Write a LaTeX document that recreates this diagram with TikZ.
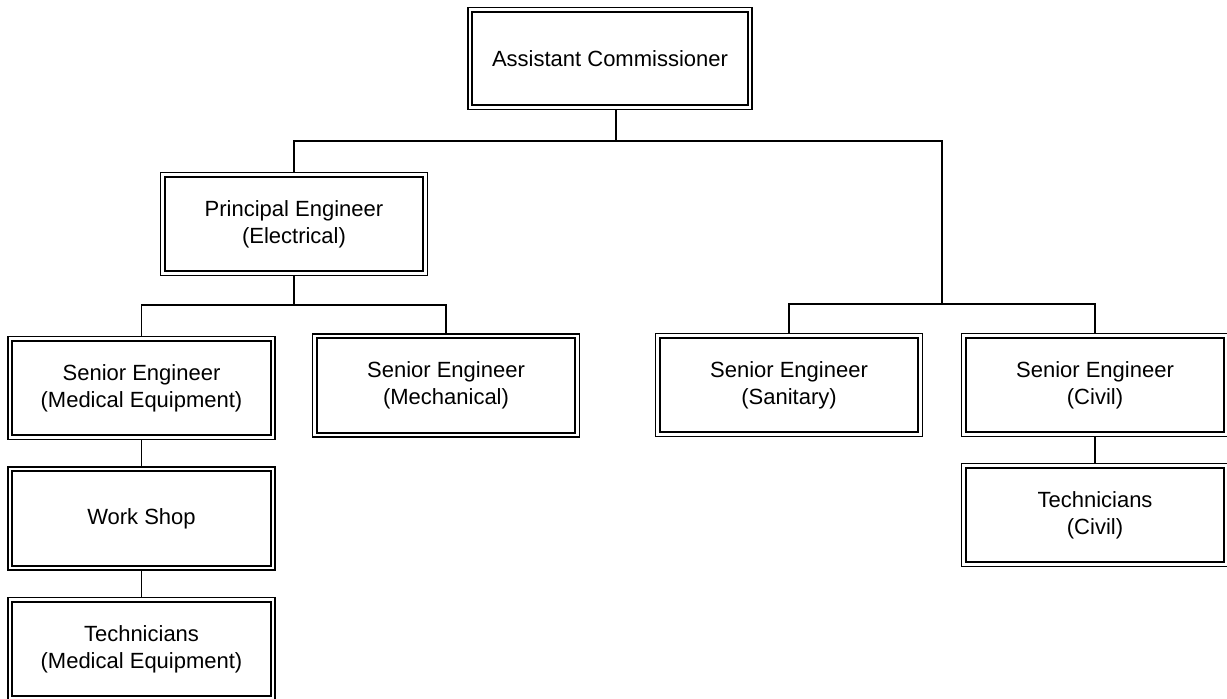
\documentclass[tikz,border=0pt]{standalone}
\usepackage{fontspec}
\setmainfont{Liberation Sans}
\begin{document}
\begin{tikzpicture}[x=1pt,y=-1pt,
  orgbox/.style={draw, line width=1.3pt,
    inner sep=0pt, minimum width=267pt, minimum height=103pt,
    align=center, font=\fontsize{22}{27}\selectfont,
    path picture={\draw[line width=2.2pt]
      ([shift={(4.2pt,-4.2pt)}]path picture bounding box.north west) rectangle
      ([shift={(-4.2pt,4.2pt)}]path picture bounding box.south east);}},
  link/.style={line width=1.8pt}]
\useasboundingbox (0,0) rectangle (1227,699);

% boxes
\node[orgbox, minimum width=284pt, minimum height=102pt] (ac) at (610,58.5) {Assistant Commissioner};
\node[orgbox] (pe)   at (294,224)    {Principal Engineer\\(Electrical)};
\node[orgbox] (smed) at (141.5,388)  {Senior Engineer\\(Medical Equipment)};
\node[orgbox] (smec) at (446,385.5)  {Senior Engineer\\(Mechanical)};
\node[orgbox] (ssan) at (789,385)    {Senior Engineer\\(Sanitary)};
\node[orgbox] (sciv) at (1095,385)   {Senior Engineer\\(Civil)};
\node[orgbox] (ws)   at (141.5,518.5){Work Shop};
\node[orgbox] (tmed) at (141.5,649)  {Technicians\\(Medical Equipment)};
\node[orgbox] (tciv) at (1095,515)   {Technicians\\(Civil)};

% junction points
\coordinate (j0) at (616,141);
\coordinate (jl) at (294,141);
\coordinate (jr) at (942,141);
\coordinate (j1) at (294,305);
\coordinate (j2) at (942,304);

% connectors
\draw[link] (ac.south -| j0) -- (j0);
\draw[link] (pe.north) -- (jl) -- (jr) -- (j2);
\draw[link] (pe.south) -- (j1);
\draw[link] (smed.north) |- (j1) -| (smec.north);
\draw[link] (ssan.north) |- (j2) -| (sciv.north);
\draw[link] (smed.south) -- (ws.north);
\draw[link] (ws.south) -- (tmed.north);
\draw[link] (sciv.south) -- (tciv.north);
\end{tikzpicture}
\end{document}
